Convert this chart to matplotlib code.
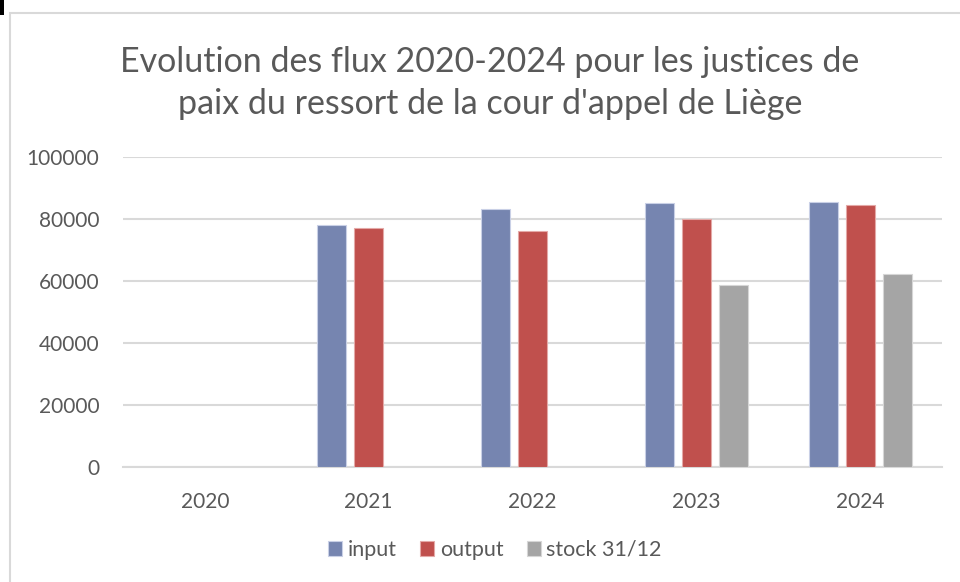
import numpy as np
import matplotlib
matplotlib.use("Agg")
import matplotlib.pyplot as plt
from matplotlib.patches import Rectangle

plt.rcParams['font.family'] = ['Lato', 'DejaVu Sans']

years = ["2020", "2021", "2022", "2023", "2024"]
input_vals = [np.nan, 78300, 83200, 85200, 85700]
output_vals = [np.nan, 77300, 76100, 80200, 84500]
stock_vals = [np.nan, np.nan, np.nan, 58700, 62400]
series_names = ["input", "output", "stock 31/12"]
colors = ["#7685B0", "#C0504D", "#A5A5A5"]
edges = ["#C9D0E6", "#E4A9A7", "#D6D6D6"]
yticks = [0, 20000, 40000, 60000, 80000, 100000]
title = "Evolution des flux 2020-2024 pour les justices de\npaix du ressort de la cour d'appel de Liège"

fig = plt.figure(figsize=(9.6, 5.82), dpi=100)
fig.patch.set_facecolor("white")

# chart frame
fig.patches.append(Rectangle((10/960, -0.05), 1.0, 1 - 13/582 + 0.05, transform=fig.transFigure,
                             fill=False, edgecolor="#D9D9D9", linewidth=1.5))
fig.patches.append(Rectangle((0, 1 - 15/582), 4/960, 15/582, transform=fig.transFigure,
                             facecolor="black", edgecolor="none"))

ax = fig.add_axes([123/960, 1 - 467/582, (942 - 123)/960, (467 - 157.4)/582])
x = np.arange(len(years))
w = 0.177
step = 0.226
for i, (vals, name) in enumerate(zip([input_vals, output_vals, stock_vals], series_names)):
    ax.bar(x + (i - 1) * step, vals, width=w, color=colors[i], edgecolor=edges[i],
           linewidth=0.8, label=name, zorder=3)

ax.set_xlim(-0.5, len(years) - 0.5)
ax.set_ylim(0, 100000)
ax.set_yticks(yticks)
ax.set_yticklabels([str(v) for v in yticks])
ax.set_xticks(x)
ax.set_xticklabels(years)
ax.grid(axis="y", color="#D9D9D9", linewidth=1.5, zorder=0)
for s in ["top", "right", "left"]:
    ax.spines[s].set_visible(False)
ax.spines["bottom"].set_color("#D9D9D9")
ax.spines["bottom"].set_linewidth(1.5)
ax.tick_params(axis="both", length=0, labelsize=15, labelcolor="#595959")
ax.tick_params(axis="y", pad=17)
ax.tick_params(axis="x", pad=18)

fig.text(490/960, 1 - 83/582, title, ha="center", va="center", fontsize=24.5,
         color="#595959", linespacing=1.35)

leg = fig.legend(loc="center", bbox_to_anchor=(495/960, 1 - 550/582), ncol=3, frameon=False,
                 fontsize=15.5, handlelength=0.65, handleheight=0.65, handletextpad=0.25,
                 columnspacing=1.1)
for t in leg.get_texts():
    t.set_color("#595959")

fig.savefig("out.png", dpi=100, facecolor="white")
